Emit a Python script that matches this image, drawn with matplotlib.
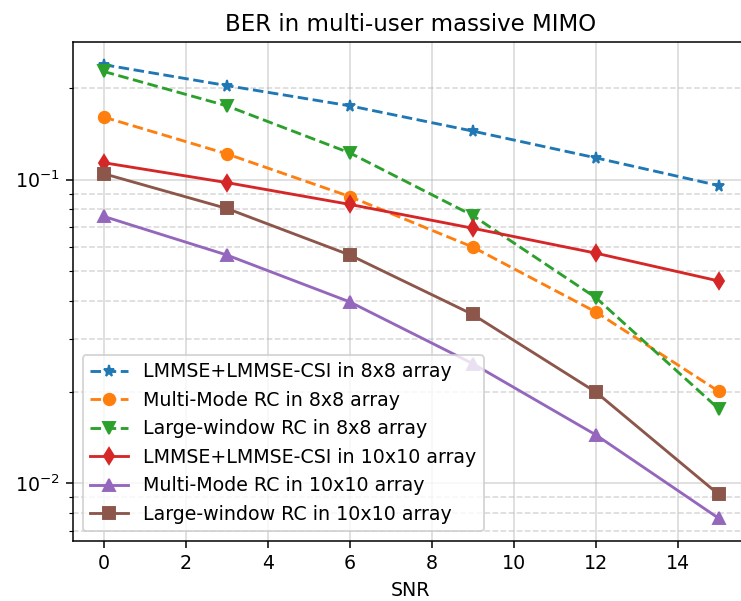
import numpy as np
import matplotlib
matplotlib.use("Agg")
import matplotlib.pyplot as plt

# SNR points (dB)
snr = [0, 3, 6, 9, 12, 15]

# BER values
ber_lmmse_8 = [0.239, 0.204, 0.175, 0.1445, 0.118, 0.0956]
ber_mm_8 = [0.1607, 0.1216, 0.0880, 0.0600, 0.0367, 0.0201]
ber_lw_8 = [0.227, 0.175, 0.1225, 0.0762, 0.0409, 0.0176]
ber_lmmse_10 = [0.1137, 0.0978, 0.0829, 0.0692, 0.0573, 0.0464]
ber_mm_10 = [0.0757, 0.0565, 0.0396, 0.0248, 0.01446, 0.00768]
ber_lw_10 = [0.1046, 0.0804, 0.0565, 0.0360, 0.0200, 0.0092]

labels = [
    "LMMSE+LMMSE-CSI in 8x8 array",
    "Multi-Mode RC in 8x8 array",
    "Large-window RC in 8x8 array",
    "LMMSE+LMMSE-CSI in 10x10 array",
    "Multi-Mode RC in 10x10 array",
    "Large-window RC in 10x10 array",
]

dpi = 137
fig = plt.figure(figsize=(741 / dpi, 601 / dpi), dpi=dpi)
# reference is cropped on the right, so the axes run past the figure edge
ax = fig.add_axes([73 / 741, 1 - 541 / 601, (770 - 73) / 741, (541 - 42) / 601])

ax.semilogy(snr, ber_lmmse_8, '--', marker='*', color='tab:blue', label=labels[0])
ax.semilogy(snr, ber_mm_8, '--', marker='o', color='tab:orange', label=labels[1])
ax.semilogy(snr, ber_lw_8, '--', marker='v', color='tab:green', label=labels[2])
ax.semilogy(snr, ber_lmmse_10, '-', marker='d', color='tab:red', label=labels[3])
ax.semilogy(snr, ber_mm_10, '-', marker='^', color='tab:purple', label=labels[4])
ax.semilogy(snr, ber_lw_10, '-', marker='s', color='tab:brown', label=labels[5])

ax.set_xlim(-0.75, -0.75 + (770 - 73) / 41.0)
ax.grid(True, which='major', alpha=0.5)
ax.grid(True, which='minor', linestyle='--', alpha=0.5)
ax.set_xticks(np.arange(0, 16, 2))
ax.set_xlabel("SNR", x=(411 - 73) / (770 - 73))
ax.set_title("BER in multi-user massive MIMO", x=(411 - 73) / (770 - 73))
ax.legend(loc='lower left')

fig.savefig("out.png", dpi=dpi)
